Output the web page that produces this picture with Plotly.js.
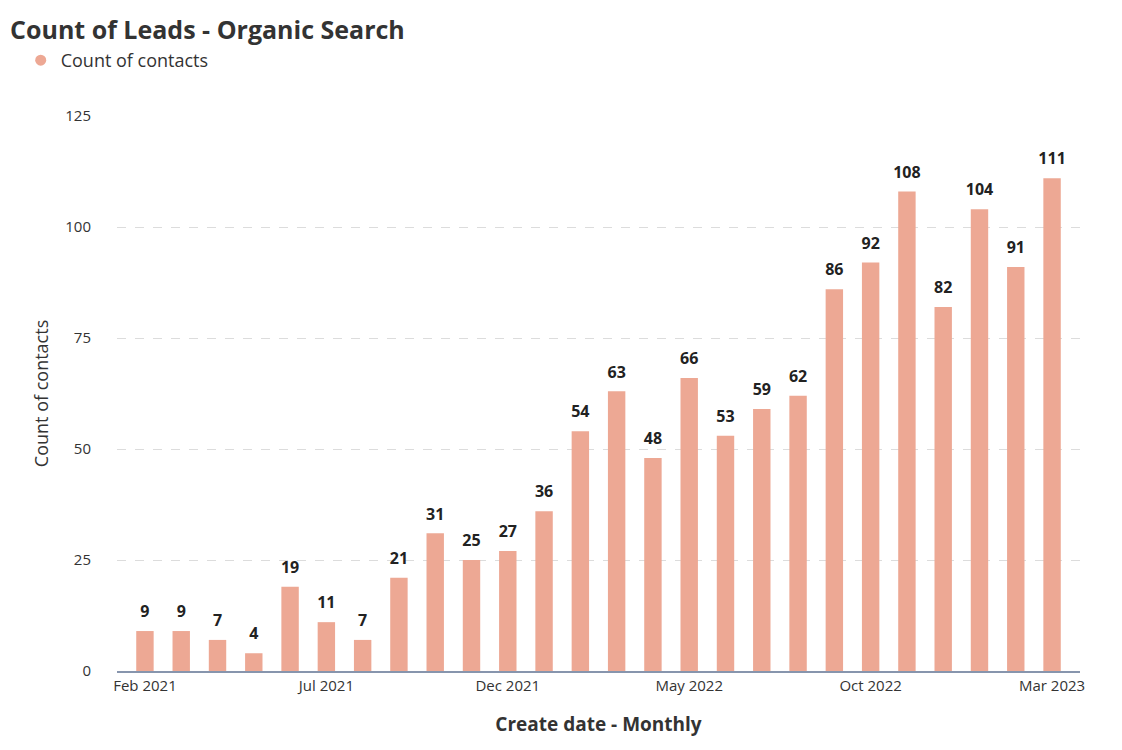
<!DOCTYPE html>
<html>
<head>
<meta charset="utf-8">
<script src="https://cdn.plot.ly/plotly-3.0.1.min.js"></script>
<style>html,body{margin:0;padding:0;background:#fff;}#chart{width:1122px;height:750px;}</style>
</head>
<body>
<div id="chart"></div>
<script>
const months = ["Feb 2021","Mar 2021","Apr 2021","May 2021","Jun 2021","Jul 2021","Aug 2021","Sep 2021","Oct 2021","Nov 2021","Dec 2021","Jan 2022","Feb 2022","Mar 2022","Apr 2022","May 2022","Jun 2022","Jul 2022","Aug 2022","Sep 2022","Oct 2022","Nov 2022","Dec 2022","Jan 2023","Feb 2023","Mar 2023"];
const contacts = [9,9,7,4,19,11,7,21,31,25,27,36,54,63,48,66,53,59,62,86,92,108,82,104,91,111];
const tickLabels = ["Feb 2021","Jul 2021","Dec 2021","May 2022","Oct 2022","Mar 2023"];
const yTicks = [0,25,50,75,100,125];

const font = "'Open Sans', 'Noto Sans', sans-serif";
const barColor = "#EDA894";

const traces = [
  {
    type: "bar",
    x: months,
    y: contacts,
    marker: {color: barColor},
    showlegend: false,
    hoverinfo: "x+y"
  },
  {
    type: "scatter",
    mode: "markers+text",
    x: months,
    y: contacts,
    text: contacts.map(String),
    textposition: "top center",
    cliponaxis: false,
    marker: {size: 14, color: "rgba(0,0,0,0)"},
    textfont: {family: font, size: 16, color: "#222", weight: "bold"},
    showlegend: false,
    hoverinfo: "skip"
  },
  {
    type: "scatter",
    mode: "markers",
    x: [null], y: [null],
    name: "Count of contacts",
    marker: {color: barColor, size: 11, symbol: "circle"},
    showlegend: true
  }
];

const layout = {
  width: 1122, height: 750,
  paper_bgcolor: "#fff", plot_bgcolor: "#fff",
  margin: {l: 117, r: 42, t: 116, b: 79},
  font: {family: font, color: "#333"},
  title: {
    text: "Count of Leads - Organic Search",
    xref: "container", yref: "container",
    x: 0.009, xanchor: "left", y: 0.96, yanchor: "middle",
    font: {family: font, size: 25, color: "#333", weight: "bold"}
  },
  legend: {
    orientation: "h", x: -0.1, xanchor: "left", y: 1.10, yanchor: "middle",
    font: {family: font, size: 18, color: "#333"},
    itemwidth: 30
  },
  bargap: 0.52,
  xaxis: {
    type: "category",
    categoryorder: "array", categoryarray: months,
    range: [-0.77, 25.77],
    tickmode: "array", tickvals: tickLabels, ticktext: tickLabels,
    tickfont: {family: font, size: 15, color: "#333"},
    showgrid: false,
    showline: true, linecolor: "#8795ad", linewidth: 1.5,
    ticks: "", ticklen: 0,
    title: {text: "Create date - Monthly", font: {family: font, size: 19, color: "#333", weight: "bold"}, standoff: 24}
  },
  yaxis: {
    range: [0, 125],
    tickmode: "array", tickvals: yTicks,
    tickfont: {family: font, size: 15, color: "#333"},
    showgrid: true, gridcolor: "#dcdcdc", griddash: "dash", gridwidth: 1,
    zeroline: false,
    ticks: "outside", ticklen: 22, tickcolor: "rgba(0,0,0,0)",
    title: {text: "Count of contacts", font: {family: font, size: 18, color: "#333"}, standoff: 11}
  },
  showlegend: true
};

Plotly.newPlot("chart", traces, layout, {displayModeBar: false, staticPlot: true});
</script>
</body>
</html>
